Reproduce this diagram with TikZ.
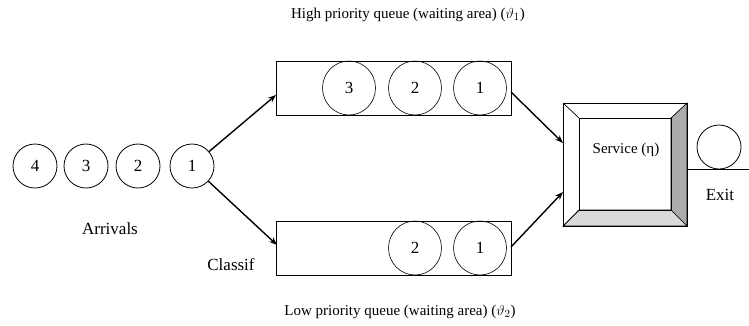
\documentclass[tikz,border=0pt]{standalone}
\usepackage{fontspec}
\setmainfont{Liberation Serif}
\usetikzlibrary{shapes.geometric,arrows.meta}
\begin{document}
\begin{tikzpicture}[x=1pt,y=-1pt,
  line width=0.8pt,
  ball/.style={draw,circle,minimum size=44pt,inner sep=0pt,font=\fontsize{17}{20}\selectfont},
  qball/.style={draw,ellipse,minimum width=53pt,minimum height=54pt,inner sep=0pt,line width=0.6pt,font=\fontsize{17}{20}\selectfont},
  qbox/.style={draw,rectangle,minimum width=235pt,minimum height=54pt,inner sep=0pt},
  lbl/.style={font=\fontsize{15}{18}\selectfont},
  biglbl/.style={font=\fontsize{17}{20}\selectfont},
  arr/.style={-{Stealth[length=8pt,width=6pt]},line width=1.4pt}]
\useasboundingbox (0,0) rectangle (749,325);
% arrivals
\node[ball] (a4) at (35,166) {4};
\node[ball] (a3) at (86,166) {3};
\node[ball] (a2) at (138,166) {2};
\node[ball] (a1) at (192,166) {1};
\node[biglbl] (arrl) at (110,229) {Arrivals};
\node[biglbl] (cls) at (231,265) {Classif};
% high priority queue
\node[qbox] (hq) at (393.5,88) {};
\node[qball] (h3) at (349,88) {3};
\node[qball] (h2) at (415,88) {2};
\node[qball] (h1) at (480,88) {1};
\node[lbl] (hql) at (408,15) {High priority queue (waiting area) ($\vartheta_1$)};
% low priority queue
\node[qbox] (lq) at (393.5,248) {};
\node[qball] (l2) at (415,248) {2};
\node[qball] (l1) at (480,248) {1};
\node[lbl] (lql) at (400,312) {Low priority queue (waiting area) ($\vartheta_2$)};
% service box
\coordinate (so1) at (563,103);
\coordinate (so2) at (687,103);
\coordinate (so3) at (687,226);
\coordinate (so4) at (563,226);
\coordinate (si1) at (579,118);
\coordinate (si2) at (671,118);
\coordinate (si3) at (671,210);
\coordinate (si4) at (579,210);
\fill[white] (so1) rectangle (so3);
\filldraw[fill=black!33,line width=0.7pt] (si2) -- (so2) -- (so3) -- (si3) -- cycle;
\filldraw[fill=black!15,line width=0.7pt] (si4) -- (si3) -- (so3) -- (so4) -- cycle;
\draw[line width=1pt] (so1) rectangle (so3);
\draw[line width=0.8pt] (si1) rectangle (si3);
\draw[line width=0.7pt] (so1) -- (si1);
\draw[line width=0.7pt] (so4) -- (si4);
\node[lbl] (svc) at (626,150) {Service (η)};
% exit
\node[draw,circle,minimum size=44pt,inner sep=0pt,line width=0.8pt] (ex) at (719,147) {};
\coordinate (exs) at (687,169);
\coordinate (exe) at (749,169);
\draw[line width=1pt] (exs) -- (exe);
\node[biglbl] (exl) at (720,195) {Exit};
% connectors
\coordinate (hin) at (276,95);
\coordinate (lin) at (277,245);
\coordinate (hout) at (511,92);
\coordinate (lout) at (511,247);
\coordinate (sin1) at (563,143);
\coordinate (sin2) at (563,192);
\draw[arr] (a1) -- (hin);
\draw[arr] (a1) -- (lin);
\draw[arr] (hout) -- (sin1);
\draw[arr] (lout) -- (sin2);
\end{tikzpicture}
\end{document}
